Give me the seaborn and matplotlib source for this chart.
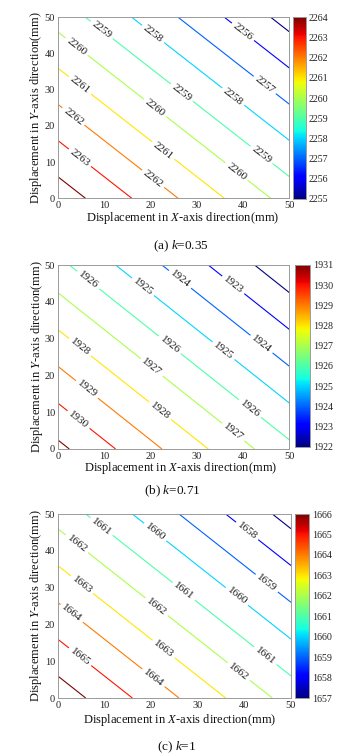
import numpy as np
import matplotlib
matplotlib.use("Agg")
import matplotlib.pyplot as plt
import matplotlib.colors as mcolors
import seaborn as sns

# ---------------- data ----------------
x_mm = [0, 10, 20, 30, 40, 50]
y_mm = [0, 10, 20, 30, 40, 50]

# rows: y = 0..50, columns: x = 0..50
z_a = [
    [2264.6, 2263.6, 2262.6, 2261.6, 2260.6, 2259.6],
    [2263.6, 2262.6, 2261.6, 2260.6, 2259.6, 2258.6],
    [2262.6, 2261.6, 2260.6, 2259.6, 2258.6, 2257.6],
    [2261.6, 2260.6, 2259.6, 2258.6, 2257.6, 2256.6],
    [2260.6, 2259.6, 2258.6, 2257.6, 2256.6, 2255.6],
    [2259.6, 2258.6, 2257.6, 2256.6, 2255.6, 2254.6],
]
z_b = [
    [1931.25, 1930.25, 1929.25, 1928.25, 1927.25, 1926.25],
    [1930.25, 1929.25, 1928.25, 1927.25, 1926.25, 1925.25],
    [1929.25, 1928.25, 1927.25, 1926.25, 1925.25, 1924.25],
    [1928.25, 1927.25, 1926.25, 1925.25, 1924.25, 1923.25],
    [1927.25, 1926.25, 1925.25, 1924.25, 1923.25, 1922.25],
    [1926.25, 1925.25, 1924.25, 1923.25, 1922.25, 1921.25],
]
z_c = [
    [1666.6, 1665.6, 1664.6, 1663.6, 1662.6, 1661.6],
    [1665.6, 1664.6, 1663.6, 1662.6, 1661.6, 1660.6],
    [1664.6, 1663.6, 1662.6, 1661.6, 1660.6, 1659.6],
    [1663.6, 1662.6, 1661.6, 1660.6, 1659.6, 1658.6],
    [1662.6, 1661.6, 1660.6, 1659.6, 1658.6, 1657.6],
    [1661.6, 1660.6, 1659.6, 1658.6, 1657.6, 1656.6],
]
levels_a = [2255, 2256, 2257, 2258, 2259, 2260, 2261, 2262, 2263, 2264]
levels_b = [1922, 1923, 1924, 1925, 1926, 1927, 1928, 1929, 1930, 1931]
levels_c = [1657, 1658, 1659, 1660, 1661, 1662, 1663, 1664, 1665, 1666]
captions = ["(a) $k$=0.35", "(b) $k$=0.71", "(c) $k$=1"]
xlabel = "Displacement in $X$-axis direction(mm)"
ylabel = "Displacement in $Y$-axis direction(mm)"
axis_ticks = [0, 10, 20, 30, 40, 50]

# label placement (approximate positions of inline labels)
label_pos_a = [(9.5, 46.5), (20.6, 45.4), (40, 46), (4.1, 41.9), (4.8, 31.2), (3.4, 22.6),
               (4.8, 11.2), (26.8, 29.2), (21, 25), (37.9, 28.1), (44.7, 31.3), (22.8, 13.2),
               (44, 12), (38.6, 7.4), (20.6, 5.4)]
label_pos_b = [(6.6, 45.9), (18.5, 44.2), (26.4, 46.1), (37.9, 44.6), (4.8, 27.7), (24.2, 28.3),
               (35.8, 26.7), (44, 28.5), (20.3, 22.2), (6.3, 16.2), (41.5, 11), (4.5, 8),
               (22.1, 10.4), (37.9, 4.6)]
label_pos_c = [(9.4, 46.6), (20.9, 45.1), (40.6, 45.4), (4.1, 41.9), (5.2, 30.8), (27, 29),
               (38.4, 27.6), (44.8, 31.2), (21.2, 24.8), (3.0, 23), (4.8, 11.2), (22.7, 13.3),
               (44.5, 11.5), (38.8, 7.2), (20.5, 5.5)]

# ---------------- style ----------------
sns.set_theme(style="white")
plt.rcParams["font.family"] = ["Liberation Serif", "DejaVu Serif"]
plt.rcParams["mathtext.fontset"] = "custom"
plt.rcParams["mathtext.rm"] = "Liberation Serif"
plt.rcParams["mathtext.it"] = "Liberation Serif:italic"
plt.rcParams["mathtext.bf"] = "Liberation Serif:bold"

W, H = 348, 756
fig = plt.figure(figsize=(W / 100, H / 100), dpi=100)
fig.patch.set_facecolor("white")

def fx(px):
    return px / W

def fy(py):
    return 1 - py / H

panels = [
    dict(z=z_a, lev=levels_a, lab=label_pos_a,
         ax=(57.7, 17.3, 289.3, 198.3), cb=(292.7, 17.3, 306.0, 199.0),
         xl=(182.5, 218), yl=(36, 107.8), cap=(180.5, 246)),
    dict(z=z_b, lev=levels_b, lab=label_pos_b,
         ax=(57.7, 265.0, 289.3, 449.0), cb=(295.3, 265.0, 310.0, 446.7),
         xl=(181, 468.5), yl=(37, 357), cap=(172, 491)),
    dict(z=z_c, lev=levels_c, lab=label_pos_c,
         ax=(57.7, 514.0, 291.0, 698.0), cb=(295.0, 514.0, 309.3, 698.0),
         xl=(180, 720), yl=(36, 606), cap=(177, 747.5)),
]

cmap = plt.get_cmap("jet")
spine_col = "#9a9a9a"

for i, p in enumerate(panels):
    l, t, r, b = p["ax"]
    ax = fig.add_axes([fx(l), fy(b), fx(r) - fx(l), (b - t) / H])
    lev = p["lev"]
    norm = mcolors.Normalize(vmin=lev[0], vmax=lev[-1])
    X, Y = np.meshgrid(x_mm, y_mm)
    Z = np.array(p["z"])
    cs = ax.contour(X, Y, Z, levels=lev, cmap=cmap, norm=norm, linewidths=0.8)
    ax.clabel(cs, fmt="%d", fontsize=8, colors="k", inline=True,
              inline_spacing=3, manual=p["lab"])
    ax.set_xlim(0, 50)
    ax.set_ylim(0, 50)
    ax.set_xticks(axis_ticks)
    ax.set_yticks(axis_ticks)
    ax.tick_params(direction="in", length=2.5, width=0.6, color=spine_col,
                   labelsize=7.5, pad=2, labelcolor="#222222")
    for s in ax.spines.values():
        s.set_color(spine_col)
        s.set_linewidth(0.7)

    cl, ct, cr, cb_ = p["cb"]
    cax = fig.add_axes([fx(cl), fy(cb_), fx(cr) - fx(cl), (cb_ - ct) / H])
    sm = matplotlib.cm.ScalarMappable(norm=norm, cmap=cmap)
    cbar = fig.colorbar(sm, cax=cax, ticks=lev)
    cbar.ax.tick_params(direction="in", length=2, width=0.5, color=spine_col,
                        labelsize=7.2, pad=2, labelcolor="#222222")
    cbar.ax.set_yticklabels([str(v) for v in lev])
    cbar.outline.set_edgecolor(spine_col)
    cbar.outline.set_linewidth(0.7)

    fig.text(fx(p["xl"][0]), fy(p["xl"][1]), xlabel, ha="center", va="center",
             fontsize=9, color="#111111")
    fig.text(fx(p["yl"][0]), fy(p["yl"][1]), ylabel, ha="center", va="center",
             rotation=90, fontsize=9, color="#111111")
    fig.text(fx(p["cap"][0]), fy(p["cap"][1]), captions[i], ha="center", va="center",
             fontsize=9.5, color="#111111")

fig.savefig("out.png", dpi=100, facecolor="white")
